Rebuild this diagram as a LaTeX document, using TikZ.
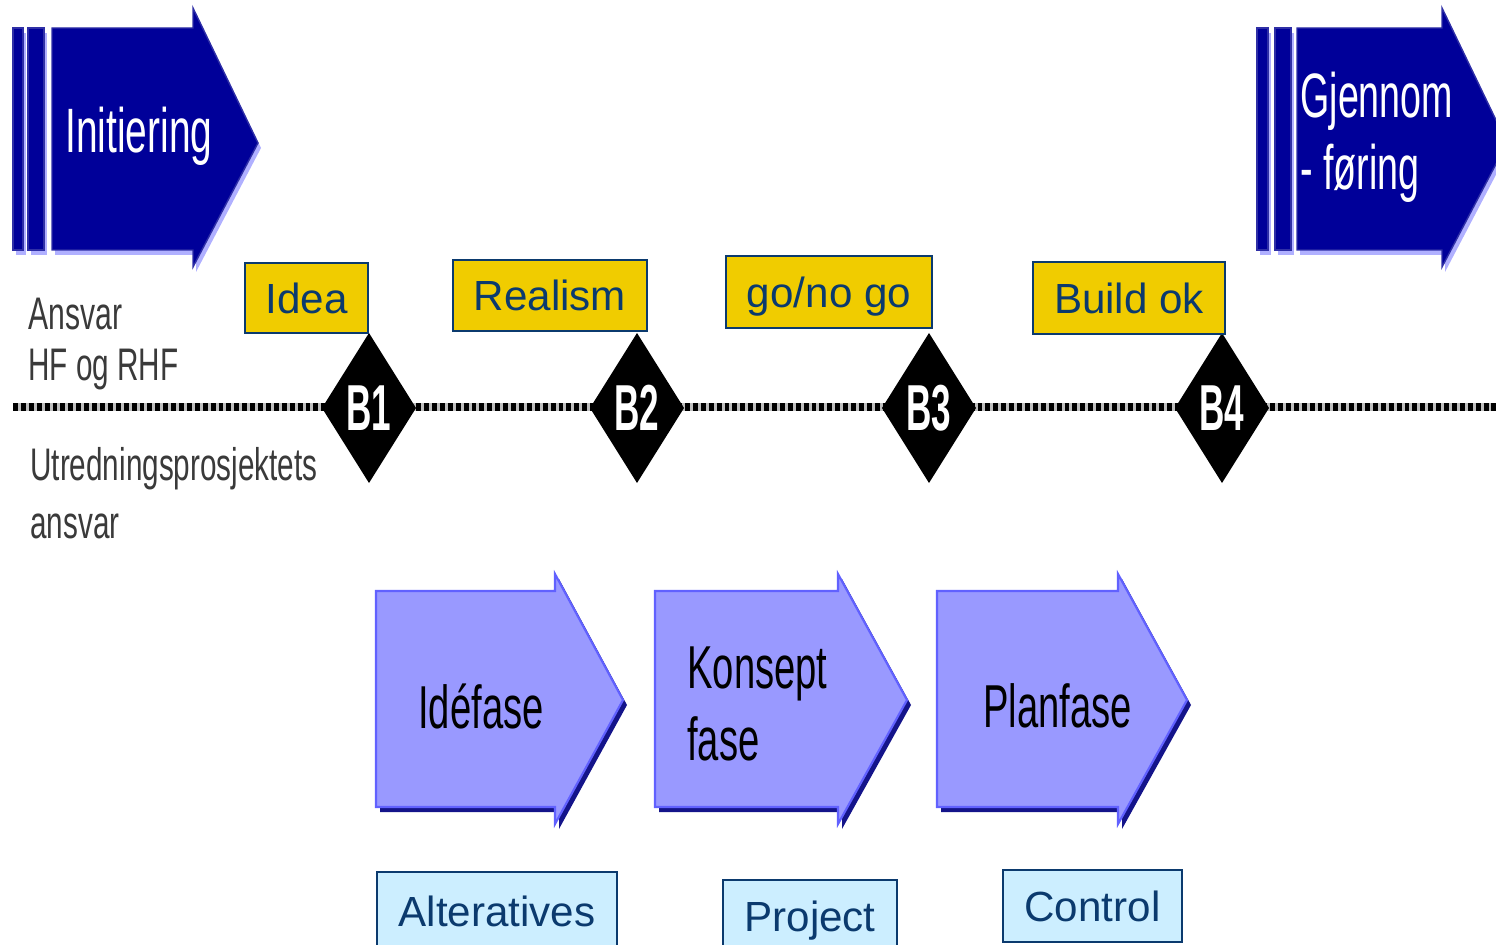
\documentclass[tikz,border=0pt]{standalone}
\usepackage{fontspec}
\setmainfont{Liberation Sans}
\usepackage{graphicx}
\definecolor{navyA}{HTML}{000099}
\definecolor{navyB}{HTML}{2F2FA6}
\definecolor{lavshadow}{HTML}{B0B0FF}
\definecolor{lav}{HTML}{9999FF}
\definecolor{lavedge}{HTML}{6161FF}
\definecolor{darkshadow}{HTML}{14148A}
\definecolor{ybox}{HTML}{F0CC00}
\definecolor{navytext}{HTML}{0B3A6E}
\definecolor{lblue}{HTML}{CCEEFF}
\definecolor{greytext}{HTML}{3A3A3A}
\newcommand{\sqz}[2]{\scalebox{#1}[1]{#2}}
\begin{document}
\begin{tikzpicture}[x=0.02cm,y=-0.02cm,
  yellowbox/.style={draw=navytext, line width=1.1pt, fill=ybox, text=navytext,
    font=\fontsize{24}{28}\selectfont, inner sep=0pt, text height=17.2pt, text depth=0pt},
  bluebox/.style={draw=navytext, line width=1.1pt, fill=lblue, text=navytext,
    font=\fontsize{24}{28}\selectfont, inner sep=0pt, text height=17.2pt, text depth=0pt},
  phase/.style={text=black, font=\fontsize{34.5}{40}\selectfont, inner sep=0pt, anchor=base west},
  toplabel/.style={text=white, font=\fontsize{35.7}{40}\selectfont, inner sep=0pt, anchor=base west},
  side/.style={text=greytext, font=\fontsize{26}{30}\selectfont, inner sep=0pt, anchor=base west},
  gate/.style={text=white, font=\fontsize{37}{40}\selectfont\bfseries, inner sep=0pt},
  gatefill/.style={fill=black},
  dotline/.style={line width=4pt, dash pattern=on 2.8pt off 1.7pt},
  dotbase/.style={line width=4pt, draw=black!25},
  topbody/.style={fill=navyA, draw=navyB, line width=0.8pt},
  topshadow/.style={fill=lavshadow},
  phasebody/.style={fill=lav, draw=lavedge, line width=1.2pt},
  phaseshadow/.style={fill=darkshadow}
]
\useasboundingbox (0,0) rectangle (1496,945);
\clip (0,0) rectangle (1496,945);

% ---- top-left arrow: Initiering
\begin{scope}[shift={(3,5)}]
  \fill[topshadow] (13,28) rectangle (23,250);
  \fill[topshadow] (28,28) rectangle (44,250);
  \fill[topshadow] (52,28) -- (193,28) -- (193,8) -- (258,143) -- (193,267) -- (193,250) -- (52,250) -- cycle;
\end{scope}
\filldraw[topbody] (13,28) rectangle (23,250);
\filldraw[topbody] (28,28) rectangle (44,250);
\filldraw[topbody] (52,28) -- (193,28) -- (193,8) -- (258,143) -- (193,267) -- (193,250) -- (52,250) -- cycle;
\node[toplabel] (init) at (65,153) {\sqz{0.62}{Initiering}};

% ---- top-right arrow: Gjennomføring
\begin{scope}[shift={(3,5)}]
  \fill[topshadow] (1257,28) rectangle (1268,250);
  \fill[topshadow] (1275,28) rectangle (1291,250);
  \fill[topshadow] (1297,28) -- (1442,28) -- (1442,8) -- (1507,143) -- (1442,267) -- (1442,250) -- (1297,250) -- cycle;
\end{scope}
\filldraw[topbody] (1257,28) rectangle (1268,250);
\filldraw[topbody] (1275,28) rectangle (1291,250);
\filldraw[topbody] (1297,28) -- (1442,28) -- (1442,8) -- (1507,143) -- (1442,267) -- (1442,250) -- (1297,250) -- cycle;
\node[toplabel] (gj1) at (1300,118) {\sqz{0.6}{Gjennom}};
\node[toplabel] (gj2) at (1300,190) {\sqz{0.6}{- føring}};

% ---- side labels
\node[side] (s1) at (28,330) {\sqz{0.66}{Ansvar}};
\node[side] (s2) at (28,380) {\sqz{0.65}{HF og RHF}};
\node[side] (s3) at (30,480) {\sqz{0.65}{Utredningsprosjektets}};
\node[side] (s4) at (30,538) {\sqz{0.65}{ansvar}};

% ---- dotted time line
\coordinate (lineL) at (13,407);
\coordinate (lineR) at (1496,407);
\draw[dotbase] (lineL) -- (lineR);
\draw[dotline] (lineL) -- (lineR);

% ---- gates
\foreach \cx/\lab in {369/B1, 637/B2, 929/B3, 1222/B4} {
  \fill[gatefill] (\cx,333) -- (\cx+47,408) -- (\cx,483) -- (\cx-47,408) -- cycle;
  \node[gate] (\lab) at (\cx,408) {\sqz{0.54}{\lab}};
}

% ---- yellow labels
\node[yellowbox, minimum width=2.46cm, minimum height=1.40cm] (idea) at (306.5,298) {Idea};
\node[yellowbox, minimum width=3.88cm, minimum height=1.42cm] (realism) at (550,295.5) {Realism};
\node[yellowbox, minimum width=4.12cm, minimum height=1.44cm] (gonogo) at (829,292) {go/no go};
\node[yellowbox, minimum width=3.84cm, minimum height=1.44cm] (buildok) at (1129,298) {Build ok};

% ---- phase arrows
\foreach \l/\b/\t in {376/555/623, 655/838/907, 937/1118/1187} {
  \begin{scope}[shift={(4,5)}]
    \fill[phaseshadow] (\l,591) -- (\b,591) -- (\b,574) -- (\t,700) -- (\b,824) -- (\b,807) -- (\l,807) -- cycle;
  \end{scope}
  \filldraw[phasebody] (\l,591) -- (\b,591) -- (\b,574) -- (\t,700) -- (\b,824) -- (\b,807) -- (\l,807) -- cycle;
}
\node[phase] (idefase) at (418,728) {\sqz{0.63}{Idéfase}};
\node[phase] (konsept1) at (687,688) {\sqz{0.63}{Konsept}};
\node[phase] (konsept2) at (687,760) {\sqz{0.63}{fase}};
\node[phase] (planfase) at (983,727) {\sqz{0.63}{Planfase}};

% ---- bottom boxes
\node[bluebox, minimum width=4.80cm, minimum height=1.56cm] (alt) at (497,911) {Alteratives};
\node[bluebox, minimum width=3.48cm, minimum height=1.44cm] (proj) at (810,916) {Project};
\node[bluebox, minimum width=3.58cm, minimum height=1.44cm] (ctrl) at (1092.5,906) {Control};
\end{tikzpicture}
\end{document}
